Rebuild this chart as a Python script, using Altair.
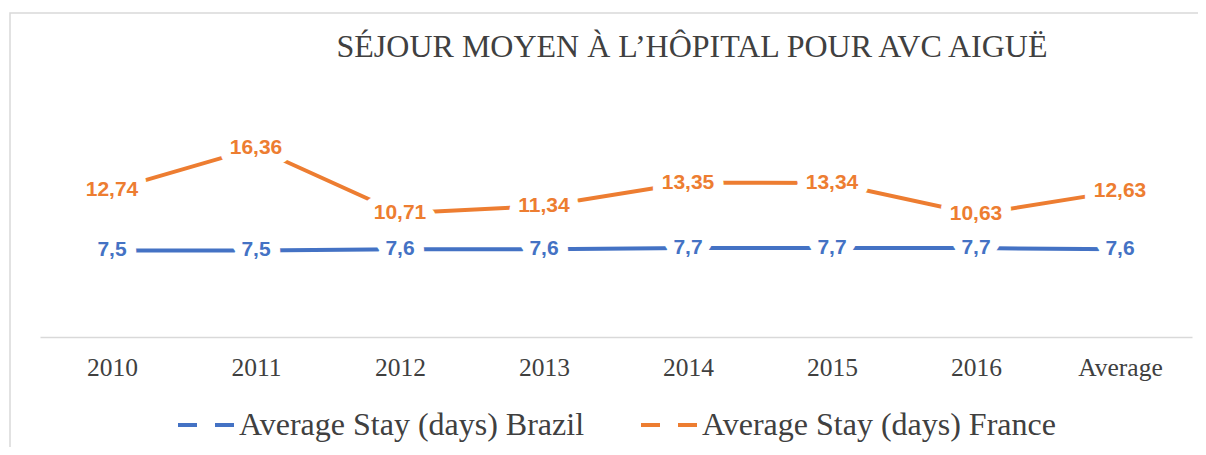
import altair as alt
import pandas as pd

years = ["2010", "2011", "2012", "2013", "2014", "2015", "2016", "Average"]
brazil = [7.5, 7.5, 7.6, 7.6, 7.7, 7.7, 7.7, 7.6]
france = [12.74, 16.36, 10.71, 11.34, 13.35, 13.34, 10.63, 12.63]
series = ["Average Stay (days) Brazil", "Average Stay (days) France"]
colors = ["#4472C4", "#ED7D31"]
title_text = "SÉJOUR MOYEN À L’HÔPITAL POUR AVC AIGUË"

rows = []
for s, vals in zip(series, [brazil, france]):
    for yr, v in zip(years, vals):
        rows.append({"year": yr, "series": s, "value": v,
                     "label": str(v).replace(".", ",")})
df = pd.DataFrame(rows)

SERIF = "Liberation Serif"
TXT = "#404040"

x = alt.X("year:N", sort=years,
          scale=alt.Scale(type="point", padding=0.5),
          axis=alt.Axis(title=None, labelAngle=0, ticks=False, grid=False,
                        domainColor="#d9d9d9", domainWidth=1.5,
                        labelFont=SERIF, labelFontSize=25.5, labelColor=TXT,
                        labelPadding=30, labelBaseline="middle"))
y = alt.Y("value:Q", scale=alt.Scale(domain=[0, 20]), axis=None)
color = alt.Color("series:N", sort=series,
                  scale=alt.Scale(domain=series, range=colors),
                  legend=alt.Legend(title=None, orient="none", direction="horizontal",
                                    legendX=136, legendY=289,
                                    symbolType="stroke", symbolSize=3136,
                                    symbolStrokeWidth=4, symbolDash=[19, 18],
                                    labelFont=SERIF, labelFontSize=32,
                                    labelColor=TXT, columnPadding=48,
                                    labelOffset=3, padding=0, labelLimit=600))

border = alt.Chart(pd.DataFrame({"a": [0]})).mark_rect(
    fillOpacity=0, stroke="#d9d9d9", strokeWidth=1.5
).encode(x=alt.value(-30), x2=alt.value(1163), y=alt.value(-93), y2=alt.value(400))

title = alt.Chart(pd.DataFrame({"t": [title_text]})).mark_text(
    font=SERIF, fontSize=32, color=TXT, align="center", baseline="alphabetic"
).encode(x=alt.value(652), y=alt.value(-49), text="t:N")

base = alt.Chart(df)
lines = base.mark_line(strokeWidth=4, strokeCap="round").encode(x=x, y=y, color=color)
halo = base.mark_text(font="Liberation Sans", fontWeight="bold", fontSize=21,
                      fill="white", stroke="white", strokeWidth=20,
                      strokeJoin="round", baseline="middle").encode(
    x=x, y=y, text="label:N")
labels = base.mark_text(font="Liberation Sans", fontWeight="bold", fontSize=21,
                        baseline="middle").encode(
    x=x, y=y, text="label:N",
    color=alt.Color("series:N", scale=alt.Scale(domain=series, range=colors), legend=None))

chart = alt.layer(border, title, lines, halo, labels).properties(
    width=1152, height=231,
    background="white",
    autosize=alt.AutoSizeParams(type="none"),
    padding={"left": 32, "top": 98, "right": 6, "bottom": 110},
).configure_view(stroke=None, strokeWidth=0)

chart.save("out.html", embed_options={"renderer": "svg", "actions": False})
